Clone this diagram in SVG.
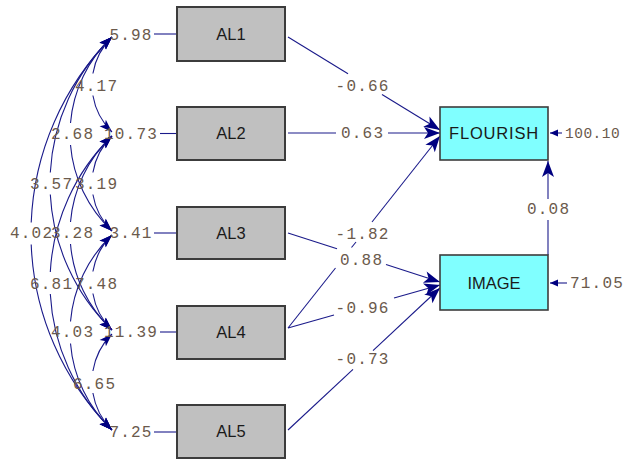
<svg xmlns="http://www.w3.org/2000/svg" width="626" height="461" viewBox="0 0 626 461">
<style>
.num{font-family:"Liberation Mono","Courier New",monospace;font-size:16px;letter-spacing:1.2px;fill:#6b5a4c;text-anchor:middle}
.numl{font-family:"Liberation Mono","Courier New",monospace;font-size:16px;letter-spacing:1.2px;fill:#6b5a4c}
.lbl{font-family:"Liberation Sans",Arial,sans-serif;font-size:16.5px;fill:#1a1a1a;text-anchor:middle}
.obs{fill:#c0c0c0;stroke:#3c3c3c;stroke-width:2}
.lat{fill:#80ffff;stroke:#3c3c3c;stroke-width:1.6}
.ln{fill:none;stroke:#1a1a8a;stroke-width:1.1}
.cs{marker-start:url(#ca)}
.ce{marker-end:url(#ca)}
.pe{marker-end:url(#pa)}
.se{marker-end:url(#sa)}
</style>
<defs>
<marker id="pa" markerUnits="userSpaceOnUse" markerWidth="18" markerHeight="14" refX="16" refY="6" orient="auto" overflow="visible"><path d="M0,0 L16,6 L0,12 L4,6 z" fill="#000080"/></marker>
<marker id="ca" markerUnits="userSpaceOnUse" markerWidth="15" markerHeight="11" refX="13" refY="4.5" orient="auto-start-reverse" overflow="visible"><path d="M0,0 L13,4.5 L0,9 L3,4.5 z" fill="#000080"/></marker>
<marker id="sa" markerUnits="userSpaceOnUse" markerWidth="9" markerHeight="8" refX="8" refY="3.5" orient="auto" overflow="visible"><path d="M0,0 L8,3.5 L0,7 z" fill="#000080"/></marker>
</defs>

<g id="connectors">
<line class="ln" x1="154" y1="34" x2="177" y2="34"/>
<line class="ln" x1="160" y1="133.5" x2="177" y2="133.5"/>
<line class="ln" x1="154" y1="233" x2="177" y2="233"/>
<line class="ln" x1="160" y1="332" x2="177" y2="332"/>
<line class="ln" x1="154" y1="432" x2="177" y2="432"/>
<path class="ln cs" d="M112,37 A66.4,66.4 0 0 0 92.9,73.5"/>
<path class="ln ce" d="M92.9,95.5 A66.4,66.4 0 0 0 112,132"/>
<path class="ln cs" d="M112,136 A66.4,66.4 0 0 0 92.9,172.5"/>
<path class="ln ce" d="M92.9,194.5 A66.4,66.4 0 0 0 112,231"/>
<path class="ln cs" d="M112,235 A66.4,66.4 0 0 0 92.9,271.5"/>
<path class="ln ce" d="M92.9,293.5 A66.4,66.4 0 0 0 112,330"/>
<path class="ln cs" d="M112,334 A67.6,67.6 0 0 0 92.9,371"/>
<path class="ln ce" d="M92.9,393 A67.6,67.6 0 0 0 112,430"/>
<path class="ln cs" d="M112,37 A133,133 0 0 0 70.5,123"/>
<path class="ln ce" d="M70.5,145 A133,133 0 0 0 112,231"/>
<path class="ln cs" d="M112,136 A133,133 0 0 0 70.5,222"/>
<path class="ln ce" d="M70.5,244 A133,133 0 0 0 112,330"/>
<path class="ln cs" d="M112,235 A134.2,134.2 0 0 0 70.5,321.5"/>
<path class="ln ce" d="M70.5,343.5 A134.2,134.2 0 0 0 112,430"/>
<path class="ln cs" d="M112,37 A204.1,204.1 0 0 0 50.3,172.5"/>
<path class="ln ce" d="M50.3,194.5 A204.1,204.1 0 0 0 112,330"/>
<path class="ln cs" d="M112,136 A205.3,205.3 0 0 0 50.3,272"/>
<path class="ln ce" d="M50.3,294 A205.3,205.3 0 0 0 112,430"/>
<path class="ln cs" d="M112,37 A278.85,278.85 0 0 0 31.2,222.5"/>
<path class="ln ce" d="M31.2,244.5 A278.85,278.85 0 0 0 112,430"/>
<line class="ln" x1="288" y1="37" x2="348" y2="73.7"/>
<line class="ln pe" x1="382" y1="94.5" x2="440" y2="130"/>
<line class="ln" x1="288" y1="133" x2="336" y2="133"/>
<line class="ln pe" x1="388" y1="133" x2="440" y2="133"/>
<line class="ln" x1="288" y1="328" x2="335.5" y2="268"/>
<line class="ln" x1="351.5" y1="247.5" x2="356" y2="242"/>
<line class="ln pe" x1="372" y1="222" x2="440" y2="136"/>
<line class="ln" x1="288" y1="233" x2="337" y2="248.8"/>
<line class="ln pe" x1="386" y1="264.6" x2="440" y2="282"/>
<line class="ln" x1="288" y1="328" x2="334" y2="315"/>
<line class="ln pe" x1="394" y1="298" x2="440" y2="285"/>
<line class="ln" x1="288" y1="430" x2="353" y2="369.3"/>
<line class="ln pe" x1="373" y1="350.6" x2="440" y2="288"/>
<line class="ln" x1="548" y1="255" x2="548" y2="220"/>
<line class="ln pe" x1="548" y1="199" x2="548" y2="161"/>
<line class="ln se" x1="562" y1="133" x2="550" y2="133"/>
<line class="ln se" x1="567" y1="283" x2="550" y2="283"/>
</g>

<g id="labels">
<text class="num" x="131" y="40">5.98</text>
<text class="num" x="131" y="139">10.73</text>
<text class="num" x="131" y="238">3.41</text>
<text class="num" x="131" y="337">11.39</text>
<text class="num" x="131" y="437">7.25</text>
<text class="num" x="96.6" y="91">4.17</text>
<text class="num" x="72.6" y="139">2.68</text>
<text class="num" x="51.6" y="189">3.57</text>
<text class="num" x="96.6" y="189">3.19</text>
<text class="num" x="31.6" y="238">4.02</text>
<text class="num" x="72.6" y="238">3.28</text>
<text class="num" x="51.6" y="289">6.81</text>
<text class="num" x="96.6" y="289">7.48</text>
<text class="num" x="72.6" y="337">4.03</text>
<text class="num" x="94.6" y="389">6.65</text>
<text class="num" x="362.6" y="91">-0.66</text>
<text class="num" x="362.6" y="138">0.63</text>
<text class="num" x="362.6" y="239">-1.82</text>
<text class="num" x="361.6" y="265">0.88</text>
<text class="num" x="362.6" y="313">-0.96</text>
<text class="num" x="362.6" y="364">-0.73</text>
<text class="num" x="548.6" y="214">0.08</text>
<text class="numl" x="565" y="138" style="font-size:14.5px;letter-spacing:0.5px">100.10</text>
<text class="numl" x="570" y="288">71.05</text>
</g>

<g id="AL1"><rect class="obs" x="177" y="7" width="108" height="54"/><text class="lbl" x="231" y="40">AL1</text></g>
<g id="AL2"><rect class="obs" x="177" y="107" width="108" height="53"/><text class="lbl" x="231" y="139">AL2</text></g>
<g id="AL3"><rect class="obs" x="177" y="207" width="108" height="52"/><text class="lbl" x="231" y="239">AL3</text></g>
<g id="AL4"><rect class="obs" x="177" y="306" width="108" height="53"/><text class="lbl" x="231" y="338">AL4</text></g>
<g id="AL5"><rect class="obs" x="177" y="405" width="108" height="53"/><text class="lbl" x="231" y="437">AL5</text></g>
<g id="FLOURISH"><rect class="lat" x="440" y="107" width="108" height="53"/><text class="lbl" x="494" y="139" style="letter-spacing:0.8px">FLOURISH</text></g>
<g id="IMAGE"><rect class="lat" x="440" y="255" width="108" height="55"/><text class="lbl" x="494" y="289">IMAGE</text></g>
</svg>
